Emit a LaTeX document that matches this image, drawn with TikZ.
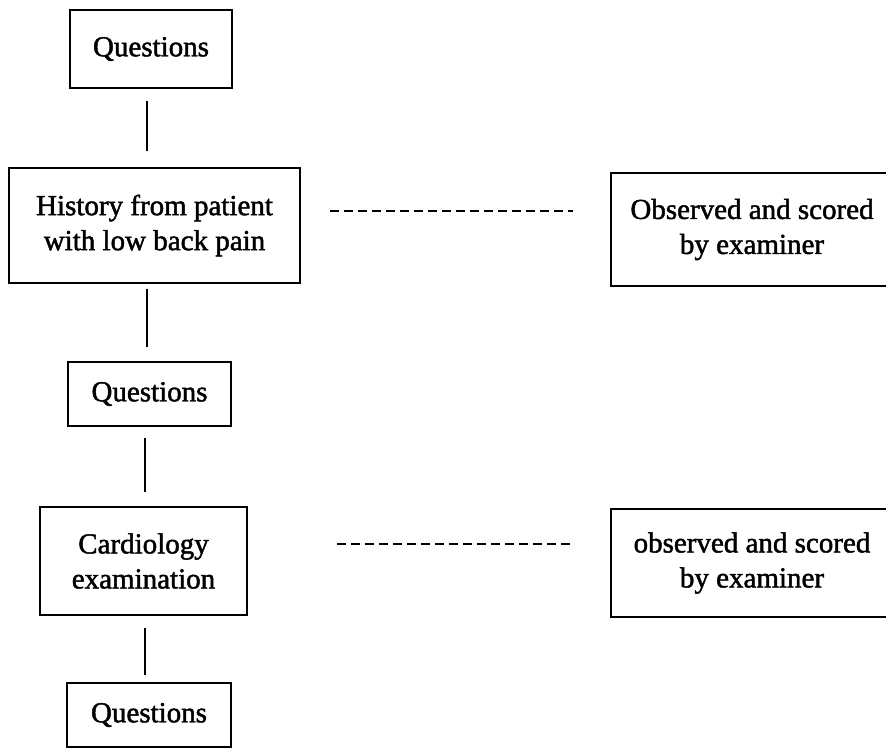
\documentclass[tikz,border=0pt]{standalone}
\usepackage{fontspec}
\setmainfont{Liberation Serif}
\newfontfamily\heavyserif[FakeBold=1.6]{Liberation Serif}
\begin{document}
\begin{tikzpicture}[x=1pt,y=-1pt,
  box/.style={draw=black,line width=2.6pt,align=center,inner sep=0pt,
    font=\heavyserif\fontsize{29}{35}\selectfont},
  conn/.style={draw=black,line width=2.8pt},
  dashline/.style={draw=black,line width=2.6pt,dash pattern=on 9pt off 5pt}]
\clip (0,0) rectangle (886,748);
\fill[white] (0,0) rectangle (886,748);
\node[box,minimum width=162pt,minimum height=78pt] (q1) at (151,49) {Questions};
\node[box,minimum width=291pt,minimum height=115pt] (hist) at (154.5,225.5) {History from patient\\with low back pain};
\node[box,minimum width=163pt,minimum height=64pt] (q2) at (149.5,394) {Questions};
\node[box,minimum width=207pt,minimum height=108pt] (card) at (143.5,561) {Cardiology\\examination};
\node[box,minimum width=164pt,minimum height=64pt] (q3) at (149,715) {Questions};
\node[box,minimum width=282pt,minimum height=113pt] (obs1) at (752,229.5) {Observed and scored\\by examiner};
\node[box,minimum width=282pt,minimum height=108pt] (obs2) at (752,563) {observed and scored\\by examiner};
\draw[conn,shorten <=12pt,shorten >=16pt] ([xshift=-4pt]q1.south) -- ([xshift=-4pt]q1.south |- hist.north);
\draw[conn,shorten <=5pt,shorten >=14pt] ([xshift=-7.5pt]hist.south) -- ([xshift=-7.5pt]hist.south |- q2.north);
\draw[conn,shorten <=11pt,shorten >=14pt] ([xshift=-4.5pt]q2.south) -- ([xshift=-4.5pt]q2.south |- card.north);
\draw[conn,shorten <=12pt,shorten >=7pt] ([xshift=1.5pt]card.south) -- ([xshift=1.5pt]card.south |- q3.north);
\draw[dashline,shorten <=29pt,shorten >=37pt] ([yshift=14.5pt]hist.east) -- ([yshift=14.5pt]hist.east -| obs1.west);
\draw[dashline,shorten <=89pt,shorten >=36pt] ([yshift=17pt]card.east) -- ([yshift=17pt]card.east -| obs2.west);
\end{tikzpicture}
\end{document}
